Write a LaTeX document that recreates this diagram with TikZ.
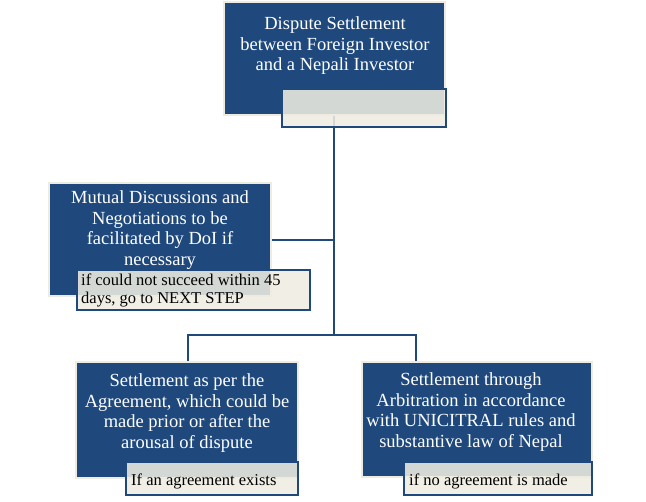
\documentclass[tikz,border=0pt]{standalone}
\usepackage{fontspec}
\setmainfont{Liberation Serif}
\definecolor{dblue}{HTML}{1F497D}
\definecolor{cream}{HTML}{EEECE1}
\begin{document}
\begin{tikzpicture}[x=1pt,y=-1pt,
  mainbox/.style={fill=dblue,draw=cream,line width=1.5pt},
  maintext/.style={text=white,align=center,font=\fontsize{18.5}{20.5}\selectfont},
  notebox/.style={fill=cream,fill opacity=0.88,draw=dblue,line width=1.5pt},
  notetext/.style={align=left,font=\fontsize{16.5}{18}\selectfont,inner sep=0pt},
  conn/.style={draw=dblue,line width=2pt}]
\useasboundingbox (0,0) rectangle (646,502);
% top
\draw[conn] (334,110) coordinate (t1) -- (334,335) coordinate (j);
\draw[mainbox] (224,2) rectangle (445,115);
\node[maintext] (top) at (335,46) {Dispute Settlement\\between Foreign Investor\\and a Nepali Investor};
\draw[notebox] (282,89) rectangle (446,127);
% left middle
\coordinate (lm) at (271,240);
\draw[conn] (lm) -- (334,240);
\draw[mainbox] (49,183) rectangle (271,296);
\node[maintext] (mid) at (160,230) {Mutual Discussions and\\Negotiations to be\\facilitated by DoI if\\necessary};
\draw[notebox] (77,270) rectangle (310,310);
\node[notetext,anchor=west] (midn) at (81,290) {if could not succeed within 45\\days, go to NEXT STEP};
% bottom connectors
\draw[conn] (188,362) -- (188,335) -- (416,335) -- (416,362);
% bottom left
\draw[mainbox] (76,362) rectangle (298,478);
\node[maintext] (bl) at (187,413) {Settlement as per the\\Agreement, which could be\\made prior or after the\\arousal of dispute};
\draw[notebox] (126,462) rectangle (298,495);
\node[notetext,anchor=west] (bln) at (131,481) {If an agreement exists};
% bottom right
\draw[mainbox] (362,362) rectangle (592,477);
\node[maintext] (br) at (471,412) {Settlement through\\Arbitration in accordance\\with UNICITRAL rules and\\substantive law of Nepal};
\draw[notebox] (404,462) rectangle (592,495);
\node[notetext,anchor=west] (brn) at (409,481) {if no agreement is made};
\end{tikzpicture}
\end{document}
